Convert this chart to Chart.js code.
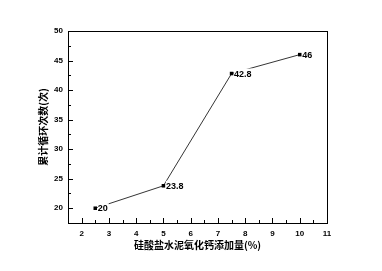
<!DOCTYPE html>
<html>
<head>
<meta charset="utf-8">
<script src="https://cdn.jsdelivr.net/npm/chart.js@4"></script>
<style>
html,body{margin:0;padding:0;background:#fff;}
#wrap{width:382px;height:271px;}
</style>
</head>
<body>
<div id="wrap"><canvas id="c" width="382" height="271"></canvas></div>
<script>
const xValues = [2.5, 5, 7.5, 10];
const yValues = [20, 23.8, 42.8, 46];
const pointLabels = ['20', '23.8', '42.8', '46'];
const xTicks = [2, 3, 4, 5, 6, 7, 8, 9, 10, 11];
const yTicks = [20, 25, 30, 35, 40, 45, 50];
const xMinor = [1.5, 2.5, 3.5, 4.5, 5.5, 6.5, 7.5, 8.5, 9.5, 10.5];
const yMinor = [17.5, 22.5, 27.5, 32.5, 37.5, 42.5, 47.5];
const xTitle = '硅酸盐水泥氧化钙添加量(%)';
const yTitle = '累计循环次数(次)';

const tickFont = {family: 'Liberation Sans', size: 8, weight: 'bold'};
const titleFont = {family: 'Noto Sans CJK SC', size: 10, weight: 'bold'};

const innerTicks = {
  id: 'innerTicks',
  afterDatasetsDraw(chart) {
    const ctx = chart.ctx;
    const a = chart.chartArea;
    const xs = chart.scales.x, ys = chart.scales.y;
    ctx.save();
    ctx.strokeStyle = '#000';
    ctx.lineWidth = 1;
    ctx.beginPath();
    xTicks.forEach(v => { const p = Math.round(xs.getPixelForValue(v)) + 0.5; ctx.moveTo(p, a.bottom); ctx.lineTo(p, a.bottom - 5); });
    xMinor.forEach(v => { const p = Math.round(xs.getPixelForValue(v)) + 0.5; ctx.moveTo(p, a.bottom); ctx.lineTo(p, a.bottom - 3); });
    yTicks.forEach(v => { const p = Math.round(ys.getPixelForValue(v)) + 0.5; ctx.moveTo(a.left, p); ctx.lineTo(a.left + 5, p); });
    yMinor.forEach(v => { const p = Math.round(ys.getPixelForValue(v)) + 0.5; ctx.moveTo(a.left, p); ctx.lineTo(a.left + 3, p); });
    ctx.stroke();
    ctx.lineWidth = 1;
    ctx.strokeRect(Math.round(a.left) + 0.5, Math.round(a.top) + 0.5, Math.round(a.right - a.left), Math.round(a.bottom - a.top));
    // data labels
    const meta = chart.getDatasetMeta(0);
    ctx.font = 'bold 9px "Liberation Sans"';
    ctx.textBaseline = 'middle';
    meta.data.forEach((pt, i) => {
      const t = pointLabels[i];
      const w = ctx.measureText(t).width;
      const x0 = pt.x + 2.5;
      ctx.fillStyle = '#fff';
      ctx.fillRect(x0, pt.y - 5, w + 1, 10);
      ctx.fillStyle = '#000';
      ctx.fillText(t, x0, pt.y + 0.5);
    });
    ctx.restore();
  }
};

new Chart(document.getElementById('c'), {
  type: 'scatter',
  data: {
    datasets: [{
      data: xValues.map((x, i) => ({x: x, y: yValues[i]})),
      showLine: true,
      borderColor: '#000',
      borderWidth: 0.8,
      backgroundColor: '#000',
      pointStyle: 'rect',
      pointRadius: 2.5,
      pointBorderWidth: 0
    }]
  },
  options: {
    responsive: false,
    animation: false,
    devicePixelRatio: 1,
    layout: {padding: {left: 0, top: 31, right: 55, bottom: 0}},
    plugins: {legend: {display: false}, tooltip: {enabled: false}},
    scales: {
      x: {
        type: 'linear', min: 1.5, max: 11,
        afterBuildTicks: s => { s.ticks = xTicks.map(v => ({value: v})); },
        afterFit: s => { s.height = 48; },
        grid: {display: false, drawTicks: false},
        border: {display: false},
        ticks: {color: '#000', font: tickFont, padding: 6, maxRotation: 0, autoSkip: false},
        title: {display: true, text: xTitle, color: '#000', font: titleFont, padding: {top: 0, bottom: 20}}
      },
      y: {
        type: 'linear', min: 17.5, max: 50,
        afterBuildTicks: s => { s.ticks = yTicks.map(v => ({value: v})); },
        afterFit: s => { s.width = 68; },
        grid: {display: false, drawTicks: false},
        border: {display: false},
        ticks: {color: '#000', font: tickFont, padding: 5, autoSkip: false},
        title: {display: true, text: yTitle, color: '#000', font: titleFont, padding: {top: 37, bottom: 0}}
      }
    }
  },
  plugins: [innerTicks]
});
</script>
</body>
</html>
